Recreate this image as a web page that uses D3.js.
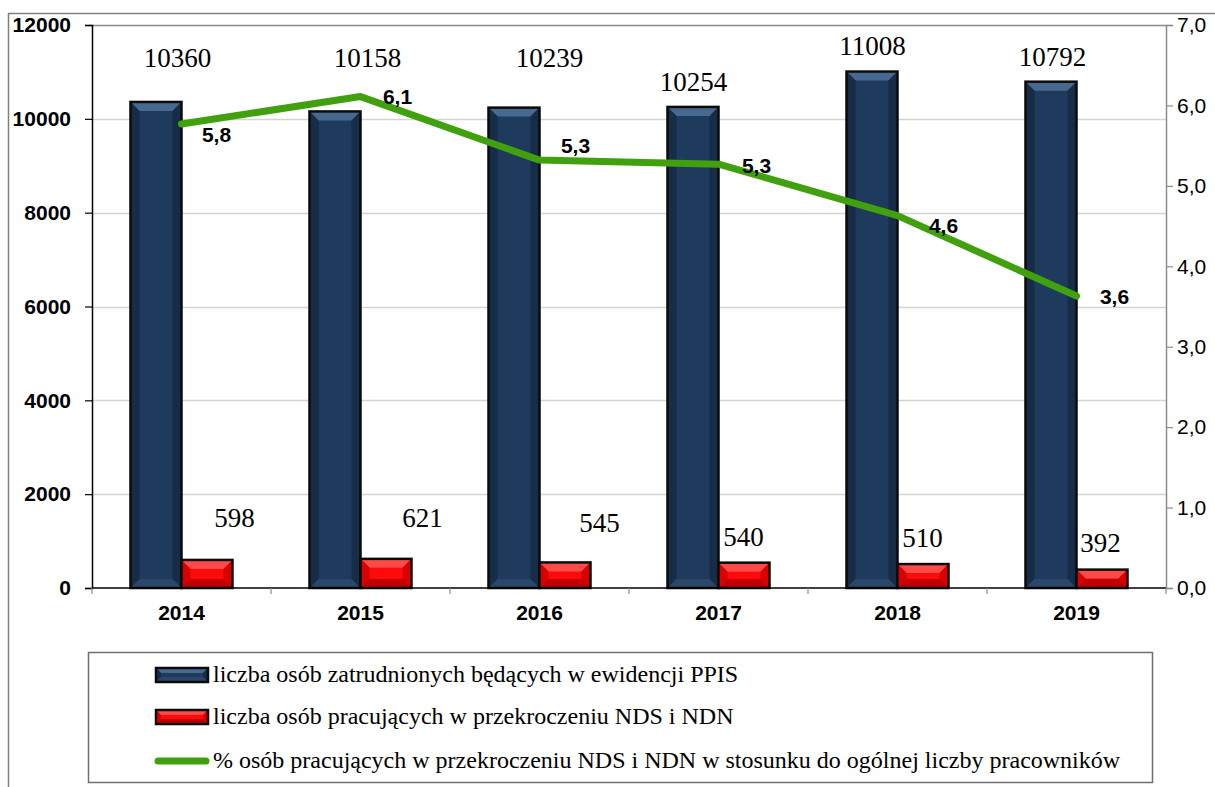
<!DOCTYPE html>
<html>
<head>
<meta charset="utf-8">
<script src="https://cdn.jsdelivr.net/npm/d3@7"></script>
<style>
  body { margin: 0; background: #fff; }
  svg { display: block; }
</style>
</head>
<body>
<div id="chart"></div>
<script>
var years = ["2014", "2015", "2016", "2017", "2018", "2019"];
var employed = [10360, 10158, 10239, 10254, 11008, 10792];
var exceeding = [598, 621, 545, 540, 510, 392];
var percent = [5.77, 6.11, 5.32, 5.27, 4.63, 3.63];
var leftTicks = [0, 2000, 4000, 6000, 8000, 10000, 12000];
var rightTicks = [0, 1, 2, 3, 4, 5, 6, 7];
var legendLabels = [
    "liczba osób zatrudnionych będących w ewidencji PPIS",
    "liczba osób pracujących w przekroczeniu NDS i NDN",
    "% osób pracujących w przekroczeniu NDS i NDN w stosunku do ogólnej liczby pracowników"
];

// label nudges (hand placed in the original)
var blueLabelNudge = [[-4, 0], [7, 0], [10, 0], [-25, 24], [-25, -12], [-24, -1]];
var redLabelNudge = [[53, 0], [62, 0], [60, 5], [25, 19], [25, 20], [24, 25]];
var pctLabelNudge = [[35, 11], [37, 0], [36, -14], [38, 2], [46, 10], [38, 1]];

var W = 1215, H = 787;
var margin = {top: 25, right: 49, bottom: 199, left: 92},
    width = W - margin.left - margin.right,
    height = H - margin.top - margin.bottom;

var sans = "Arial, 'Liberation Sans', sans-serif";
var serif = "'Liberation Serif', 'Times New Roman', serif";

var svg = d3.select("#chart").append("svg")
    .attr("width", W)
    .attr("height", H);

// outer frame
svg.append("line").attr("x1", 8).attr("x2", W).attr("y1", 13.5).attr("y2", 13.5)
    .attr("stroke", "#7f7f7f").attr("stroke-width", 1.5);
svg.append("line").attr("x1", 8.5).attr("x2", 8.5).attr("y1", 13).attr("y2", H)
    .attr("stroke", "#7f7f7f").attr("stroke-width", 1.5);

var g = svg.append("g")
    .attr("transform", "translate(" + margin.left + "," + margin.top + ")");

var x = d3.scaleBand().domain(years).range([0, width]).paddingInner(0.43).paddingOuter(0.215);
var step = x.step();
var xs = d3.scaleBand().domain(["a", "b"]).range([0, x.bandwidth()]);
var y = d3.scaleLinear().domain([0, 12000]).range([height, 0]);
var y2 = d3.scaleLinear().domain([0, 7]).range([height, 0]);
var cx = function (d) { return x(d) + x.bandwidth() / 2; };
var fmt1 = function (d) { return d3.format(".1f")(d).replace(".", ","); };

// gridlines
g.append("g").selectAll("line")
    .data(leftTicks.filter(function (t) { return t > 0 && t < 12000; }))
    .enter().append("line")
    .attr("x1", 0).attr("x2", width)
    .attr("y1", function (d) { return Math.round(y(d)) + 0.5; })
    .attr("y2", function (d) { return Math.round(y(d)) + 0.5; })
    .attr("stroke", "#d4d4d4").attr("stroke-width", 1.5);

// plot area top border
g.append("line").attr("x1", 0).attr("x2", width).attr("y1", 0.5).attr("y2", 0.5)
    .attr("stroke", "#8c8c8c").attr("stroke-width", 1.5);

// bevelled bars
function bevelBar(sel, bx, by, bw, bh, c, bev) {
    var b = Math.min(bev || 9, bw / 2, bh / 2);
    var grp = sel.append("g");
    grp.append("rect").attr("x", bx).attr("y", by).attr("width", bw).attr("height", bh).attr("fill", c.mid);
    grp.append("polygon").attr("points", [[bx, by], [bx + bw, by], [bx + bw - b, by + b], [bx + b, by + b]].join(" ")).attr("fill", c.top);
    grp.append("polygon").attr("points", [[bx, by], [bx + b, by + b], [bx + b, by + bh - b], [bx, by + bh]].join(" ")).attr("fill", c.side);
    grp.append("polygon").attr("points", [[bx + bw, by], [bx + bw - b, by + b], [bx + bw - b, by + bh - b], [bx + bw, by + bh]].join(" ")).attr("fill", c.side);
    grp.append("polygon").attr("points", [[bx, by + bh], [bx + b, by + bh - b], [bx + bw - b, by + bh - b], [bx + bw, by + bh]].join(" ")).attr("fill", c.bottom);
    grp.append("rect").attr("x", bx).attr("y", by).attr("width", bw).attr("height", bh)
        .attr("fill", "none").attr("stroke", "#0b0b0b").attr("stroke-width", 2.5);
}
var blueC = {mid: "#1e3a5c", top: "#48698f", side: "#162c47", bottom: "#2a4668"};
var redC = {mid: "#ff0a0a", top: "#ff4a4a", side: "#d80000", bottom: "#c00000"};

var bars = g.append("g");
years.forEach(function (yr, i) {
    bevelBar(bars, x(yr) + xs("a"), y(employed[i]), xs.bandwidth(), height - y(employed[i]), blueC);
    bevelBar(bars, x(yr) + xs("b"), y(exceeding[i]), xs.bandwidth(), height - y(exceeding[i]), redC);
});

// left axis
var yAxis = g.append("g")
    .call(d3.axisLeft(y).tickValues(leftTicks).tickSize(7).tickPadding(14).tickFormat(d3.format("d")));
yAxis.select(".domain").attr("stroke", "#000").attr("stroke-width", 1.5);
yAxis.selectAll(".tick line").attr("stroke", "#000").attr("stroke-width", 1.2);
yAxis.selectAll("text").attr("font-family", sans)
    .attr("font-size", 21).attr("font-weight", "bold").attr("fill", "#000");

// right axis
var y2Axis = g.append("g")
    .attr("transform", "translate(" + width + ",0)")
    .call(d3.axisRight(y2).tickValues(rightTicks).tickSize(7).tickPadding(4).tickFormat(fmt1));
y2Axis.select(".domain").attr("stroke", "#8c8c8c").attr("stroke-width", 1.5);
y2Axis.selectAll(".tick line").attr("stroke", "#8c8c8c").attr("stroke-width", 1.2);
y2Axis.selectAll("text").attr("font-family", sans)
    .attr("font-size", 21).attr("fill", "#000");

// bottom axis
var xAxisG = g.append("g").attr("transform", "translate(0," + height + ")");
xAxisG.append("line").attr("x1", 0).attr("x2", width).attr("y1", 0).attr("y2", 0)
    .attr("stroke", "#000").attr("stroke-width", 1.5);
xAxisG.selectAll(".sep").data(d3.range(years.length + 1)).enter().append("line")
    .attr("x1", function (d) { return d * step; }).attr("x2", function (d) { return d * step; })
    .attr("y1", 0).attr("y2", 6).attr("stroke", "#8c8c8c").attr("stroke-width", 1.2);
xAxisG.selectAll(".lbl").data(years).enter().append("text")
    .attr("x", cx).attr("y", 32)
    .attr("text-anchor", "middle")
    .attr("font-family", sans)
    .attr("font-size", 21).attr("font-weight", "bold")
    .text(function (d) { return d; });

// percent line
var line = d3.line()
    .x(function (d, i) { return cx(years[i]); })
    .y(function (d) { return y2(d); });
g.append("path").datum(percent)
    .attr("fill", "none").attr("stroke", "#41a00e").attr("stroke-width", 7)
    .attr("stroke-linejoin", "round").attr("stroke-linecap", "round")
    .attr("d", line);

// value labels
g.append("g").selectAll("text").data(employed).enter().append("text")
    .attr("x", function (d, i) { return cx(years[i]) + blueLabelNudge[i][0]; })
    .attr("y", function (d, i) { return 42 + blueLabelNudge[i][1]; })
    .attr("text-anchor", "middle").attr("font-family", serif).attr("font-size", 27)
    .text(function (d) { return d; });

g.append("g").selectAll("text").data(exceeding).enter().append("text")
    .attr("x", function (d, i) { return cx(years[i]) + redLabelNudge[i][0]; })
    .attr("y", function (d, i) { return 502 + redLabelNudge[i][1]; })
    .attr("text-anchor", "middle").attr("font-family", serif).attr("font-size", 27)
    .text(function (d) { return d; });

g.append("g").selectAll("text").data(percent).enter().append("text")
    .attr("x", function (d, i) { return cx(years[i]) + pctLabelNudge[i][0]; })
    .attr("y", function (d, i) { return y2(d) + pctLabelNudge[i][1] + 7; })
    .attr("text-anchor", "middle")
    .attr("font-family", sans)
    .attr("font-size", 21).attr("font-weight", "bold")
    .text(fmt1);

// legend
var legend = svg.append("g");
legend.append("rect").attr("x", 88.5).attr("y", 652.5).attr("width", 1064).attr("height", 130)
    .attr("fill", "#fff").attr("stroke", "#6f6f6f").attr("stroke-width", 1.5);
var rows = [675, 717, 761];
bevelBar(legend, 156, rows[0] - 7, 52, 14, blueC, 5);
bevelBar(legend, 156, rows[1] - 7, 52, 14, redC, 5);
legend.append("line").attr("x1", 158).attr("x2", 206).attr("y1", rows[2]).attr("y2", rows[2])
    .attr("stroke", "#41a00e").attr("stroke-width", 7).attr("stroke-linecap", "round");
legend.selectAll(".lt").data(legendLabels).enter().append("text")
    .attr("x", 213).attr("y", function (d, i) { return rows[i] + 7; })
    .attr("font-family", serif).attr("font-size", 24)
    .text(function (d) { return d; });
</script>
</body>
</html>
